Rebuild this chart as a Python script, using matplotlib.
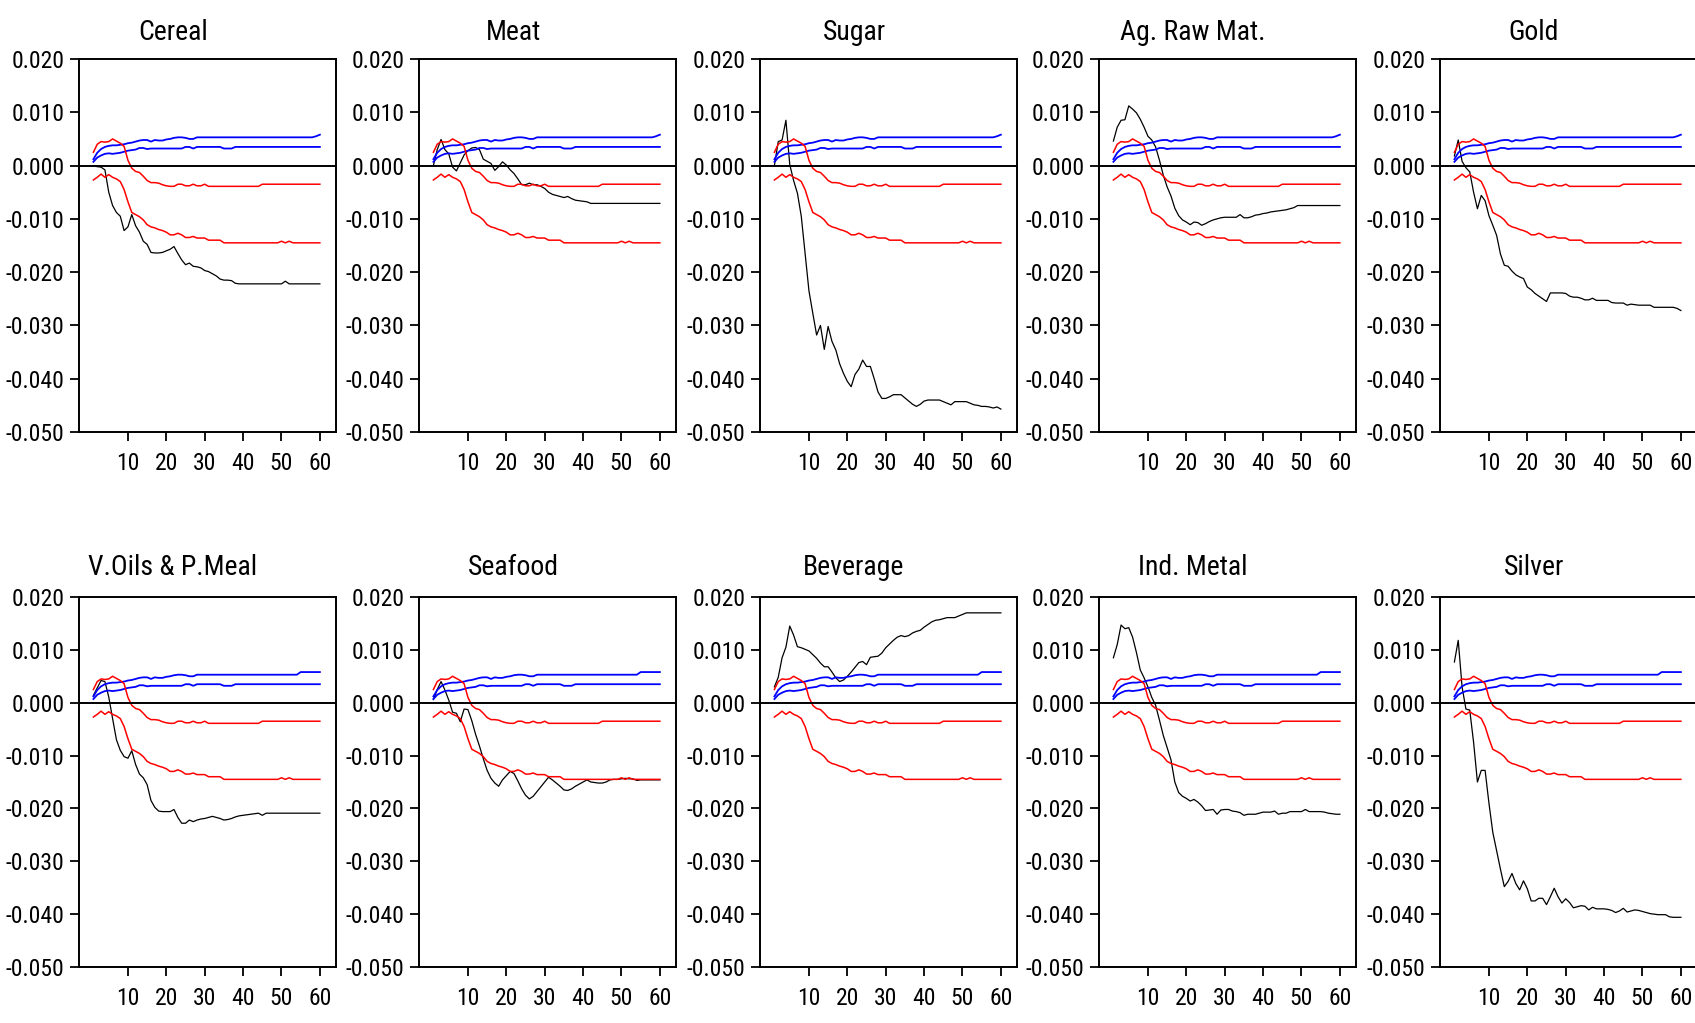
import numpy as np
import matplotlib
matplotlib.use("Agg")
import matplotlib.pyplot as plt
from matplotlib import font_manager

# --- font: want something narrow like the original; fall back to Liberation Sans ---
_fonts = font_manager.fontManager.ttflist
_names = {f.name for f in _fonts}
FONT, STRETCH, TICK_FS, TITLE_FS = "Liberation Sans", "normal", 14, 17
for cand in ["Liberation Sans Narrow", "Arial Narrow", "Roboto Condensed", "Open Sans Condensed"]:
    if cand in _names:
        FONT, TICK_FS, TITLE_FS = cand, 17, 20
        break
else:
    for fam in ["Roboto", "Open Sans", "Noto Sans"]:
        if any(f.name == fam and f.stretch in ("condensed", "semi-condensed", 500 - 125) for f in _fonts):
            FONT, STRETCH, TICK_FS, TITLE_FS = fam, "condensed", 16, 19
            break
plt.rcParams["font.family"] = [FONT, "DejaVu Sans"]
plt.rcParams["font.stretch"] = STRETCH

# --- data (horizons 1..60) ---
horizon = np.arange(1, 61)

titles = ["Cereal", "Meat", "Sugar", "Ag. Raw Mat.", "Gold",
          "V.Oils & P.Meal", "Seafood", "Beverage", "Ind. Metal", "Silver"]

y_ticks = [0.020, 0.010, 0.000, -0.010, -0.020, -0.030, -0.040, -0.050]
x_ticks = [10, 20, 30, 40, 50, 60]

# critical bands (same in every panel)
blue_hi_top = [0.0012, 0.0024, 0.0031, 0.0035, 0.0037, 0.0038, 0.0038, 0.0039, 0.0040, 0.0042,
               0.0043, 0.0045, 0.0047, 0.0048, 0.0048, 0.0045, 0.0048, 0.0047, 0.0047, 0.0049,
               0.0050, 0.0052, 0.0053, 0.0053, 0.0052, 0.0050, 0.0050, 0.0053, 0.0053, 0.0053,
               0.0053, 0.0053, 0.0053, 0.0053, 0.0053, 0.0053, 0.0053, 0.0053, 0.0053, 0.0053,
               0.0053, 0.0053, 0.0053, 0.0053, 0.0053, 0.0053, 0.0053, 0.0053, 0.0053, 0.0053,
               0.0053, 0.0053, 0.0053, 0.0053, 0.0053, 0.0053, 0.0053, 0.0053, 0.0055, 0.0058]
blue_hi_bot = [0.0012, 0.0024, 0.0031, 0.0035, 0.0037, 0.0038, 0.0038, 0.0039, 0.0040, 0.0042,
               0.0043, 0.0045, 0.0047, 0.0048, 0.0048, 0.0045, 0.0048, 0.0047, 0.0047, 0.0049,
               0.0050, 0.0052, 0.0053, 0.0053, 0.0052, 0.0050, 0.0050, 0.0053, 0.0053, 0.0053,
               0.0053, 0.0053, 0.0053, 0.0053, 0.0053, 0.0053, 0.0053, 0.0053, 0.0053, 0.0053,
               0.0053, 0.0053, 0.0053, 0.0053, 0.0053, 0.0053, 0.0053, 0.0053, 0.0053, 0.0053,
               0.0053, 0.0053, 0.0053, 0.0053, 0.0058, 0.0058, 0.0058, 0.0058, 0.0058, 0.0058]
blue_lo = [0.0007, 0.0015, 0.0019, 0.0022, 0.0023, 0.0022, 0.0023, 0.0024, 0.0026, 0.0028,
           0.0029, 0.0030, 0.0033, 0.0033, 0.0031, 0.0032, 0.0032, 0.0032, 0.0032, 0.0032,
           0.0032, 0.0032, 0.0032, 0.0032, 0.0035, 0.0035, 0.0032, 0.0035, 0.0035, 0.0035,
           0.0035, 0.0035, 0.0035, 0.0035, 0.0032, 0.0032, 0.0032, 0.0035, 0.0035, 0.0035,
           0.0035, 0.0035, 0.0035, 0.0035, 0.0035, 0.0035, 0.0035, 0.0035, 0.0035, 0.0035,
           0.0035, 0.0035, 0.0035, 0.0035, 0.0035, 0.0035, 0.0035, 0.0035, 0.0035, 0.0035]
red_hi = [0.0025, 0.0040, 0.0045, 0.0044, 0.0045, 0.0050, 0.0046, 0.0042, 0.0036, 0.0010,
          -0.0005, -0.0011, -0.0013, -0.0020, -0.0028, -0.0032, -0.0032, -0.0033, -0.0036, -0.0038,
          -0.0039, -0.0039, -0.0035, -0.0035, -0.0038, -0.0038, -0.0035, -0.0038, -0.0038, -0.0035,
          -0.0039, -0.0039, -0.0039, -0.0039, -0.0039, -0.0039, -0.0039, -0.0039, -0.0039, -0.0039,
          -0.0039, -0.0039, -0.0039, -0.0039, -0.0035, -0.0035, -0.0035, -0.0035, -0.0035, -0.0035,
          -0.0035, -0.0035, -0.0035, -0.0035, -0.0035, -0.0035, -0.0035, -0.0035, -0.0035, -0.0035]
red_lo = [-0.0027, -0.0022, -0.0016, -0.0022, -0.0017, -0.0022, -0.0025, -0.0030, -0.0045, -0.0068,
          -0.0088, -0.0092, -0.0096, -0.0102, -0.0111, -0.0115, -0.0117, -0.0120, -0.0122, -0.0125,
          -0.0130, -0.0130, -0.0127, -0.0130, -0.0135, -0.0135, -0.0133, -0.0136, -0.0136, -0.0136,
          -0.0140, -0.0140, -0.0140, -0.0140, -0.0145, -0.0145, -0.0145, -0.0145, -0.0145, -0.0145,
          -0.0145, -0.0145, -0.0145, -0.0145, -0.0145, -0.0145, -0.0145, -0.0145, -0.0145, -0.0142,
          -0.0145, -0.0142, -0.0145, -0.0145, -0.0145, -0.0145, -0.0145, -0.0145, -0.0145, -0.0145]

# responses (black lines)
cereal = [-0.0001, -0.0002, -0.0003, -0.0008, -0.0050, -0.0075, -0.0088, -0.0095, -0.0122, -0.0115,
          -0.0092, -0.0113, -0.0125, -0.0142, -0.0148, -0.0163, -0.0164, -0.0164, -0.0163, -0.0160,
          -0.0157, -0.0152, -0.0165, -0.0177, -0.0186, -0.0183, -0.0189, -0.0190, -0.0192, -0.0197,
          -0.0199, -0.0203, -0.0207, -0.0213, -0.0215, -0.0215, -0.0216, -0.0221, -0.0222, -0.0222,
          -0.0222, -0.0222, -0.0222, -0.0222, -0.0222, -0.0222, -0.0222, -0.0222, -0.0222, -0.0222,
          -0.0217, -0.0222, -0.0222, -0.0222, -0.0222, -0.0222, -0.0222, -0.0222, -0.0222, -0.0222]
meat = [0.0000, 0.0030, 0.0049, 0.0030, 0.0022, -0.0003, -0.0010, 0.0005, 0.0020, 0.0028,
        0.0033, 0.0034, 0.0030, 0.0012, 0.0008, 0.0004, -0.0009, -0.0002, 0.0007, 0.0001,
        -0.0008, -0.0015, -0.0025, -0.0036, -0.0036, -0.0033, -0.0036, -0.0036, -0.0039, -0.0043,
        -0.0050, -0.0054, -0.0056, -0.0058, -0.0060, -0.0058, -0.0062, -0.0065, -0.0066, -0.0067,
        -0.0068, -0.0071, -0.0071, -0.0071, -0.0071, -0.0071, -0.0071, -0.0071, -0.0071, -0.0071,
        -0.0071, -0.0071, -0.0071, -0.0071, -0.0071, -0.0071, -0.0071, -0.0071, -0.0071, -0.0071]
sugar = [0.0000, 0.0045, 0.0048, 0.0085, 0.0002, -0.0028, -0.0052, -0.0095, -0.0165, -0.0235,
         -0.0277, -0.0318, -0.0300, -0.0345, -0.0302, -0.0330, -0.0346, -0.0372, -0.0390, -0.0405,
         -0.0415, -0.0392, -0.0382, -0.0365, -0.0377, -0.0377, -0.0400, -0.0425, -0.0437, -0.0437,
         -0.0434, -0.0430, -0.0430, -0.0430, -0.0436, -0.0442, -0.0448, -0.0452, -0.0448, -0.0442,
         -0.0440, -0.0440, -0.0440, -0.0440, -0.0443, -0.0446, -0.0449, -0.0443, -0.0443, -0.0443,
         -0.0443, -0.0446, -0.0449, -0.0450, -0.0452, -0.0452, -0.0453, -0.0455, -0.0453, -0.0457]
ag_raw = [0.0046, 0.0072, 0.0085, 0.0086, 0.0112, 0.0106, 0.0099, 0.0087, 0.0072, 0.0055,
          0.0048, 0.0035, 0.0010, -0.0018, -0.0040, -0.0057, -0.0080, -0.0094, -0.0102, -0.0106,
          -0.0111, -0.0106, -0.0107, -0.0112, -0.0109, -0.0105, -0.0102, -0.0100, -0.0098, -0.0097,
          -0.0097, -0.0097, -0.0097, -0.0092, -0.0098, -0.0098, -0.0096, -0.0093, -0.0092, -0.0090,
          -0.0089, -0.0087, -0.0086, -0.0085, -0.0084, -0.0083, -0.0081, -0.0079, -0.0075, -0.0075,
          -0.0075, -0.0075, -0.0075, -0.0075, -0.0075, -0.0075, -0.0075, -0.0075, -0.0075, -0.0075]
gold = [0.0018, 0.0048, 0.0008, -0.0004, -0.0012, -0.0050, -0.0081, -0.0056, -0.0066, -0.0094,
        -0.0112, -0.0131, -0.0166, -0.0187, -0.0189, -0.0198, -0.0205, -0.0209, -0.0212, -0.0228,
        -0.0233, -0.0240, -0.0245, -0.0250, -0.0255, -0.0239, -0.0239, -0.0239, -0.0239, -0.0240,
        -0.0245, -0.0247, -0.0247, -0.0249, -0.0252, -0.0252, -0.0249, -0.0253, -0.0253, -0.0253,
        -0.0253, -0.0257, -0.0258, -0.0258, -0.0258, -0.0262, -0.0260, -0.0261, -0.0262, -0.0262,
        -0.0262, -0.0262, -0.0266, -0.0266, -0.0266, -0.0266, -0.0266, -0.0266, -0.0268, -0.0272]
veg_oils = [0.0014, 0.0028, 0.0042, 0.0040, 0.0011, -0.0030, -0.0070, -0.0090, -0.0102, -0.0105,
            -0.0091, -0.0117, -0.0135, -0.0142, -0.0155, -0.0185, -0.0198, -0.0205, -0.0206, -0.0206,
            -0.0206, -0.0202, -0.0217, -0.0228, -0.0228, -0.0222, -0.0225, -0.0222, -0.0220, -0.0219,
            -0.0217, -0.0215, -0.0217, -0.0219, -0.0222, -0.0221, -0.0219, -0.0216, -0.0214, -0.0213,
            -0.0212, -0.0211, -0.0210, -0.0209, -0.0213, -0.0209, -0.0209, -0.0209, -0.0209, -0.0209,
            -0.0209, -0.0209, -0.0209, -0.0209, -0.0209, -0.0209, -0.0209, -0.0209, -0.0209, -0.0209]
seafood = [0.0006, 0.0025, 0.0040, 0.0024, 0.0005, -0.0018, -0.0020, -0.0036, -0.0012, -0.0013,
           -0.0034, -0.0060, -0.0082, -0.0106, -0.0128, -0.0143, -0.0152, -0.0158, -0.0146, -0.0138,
           -0.0130, -0.0134, -0.0148, -0.0163, -0.0175, -0.0182, -0.0177, -0.0168, -0.0159, -0.0150,
           -0.0141, -0.0146, -0.0152, -0.0158, -0.0165, -0.0166, -0.0163, -0.0158, -0.0154, -0.0150,
           -0.0146, -0.0150, -0.0151, -0.0152, -0.0152, -0.0150, -0.0146, -0.0145, -0.0145, -0.0144,
           -0.0143, -0.0144, -0.0144, -0.0147, -0.0146, -0.0146, -0.0146, -0.0146, -0.0146, -0.0146]
beverage = [0.0030, 0.0048, 0.0085, 0.0105, 0.0145, 0.0128, 0.0106, 0.0104, 0.0101, 0.0098,
            0.0091, 0.0084, 0.0075, 0.0068, 0.0068, 0.0058, 0.0047, 0.0040, 0.0043, 0.0050,
            0.0058, 0.0067, 0.0076, 0.0078, 0.0072, 0.0086, 0.0087, 0.0088, 0.0094, 0.0104,
            0.0111, 0.0118, 0.0124, 0.0127, 0.0125, 0.0127, 0.0132, 0.0135, 0.0137, 0.0143,
            0.0148, 0.0153, 0.0156, 0.0157, 0.0159, 0.0161, 0.0161, 0.0161, 0.0164, 0.0167,
            0.0170, 0.0170, 0.0170, 0.0170, 0.0170, 0.0170, 0.0170, 0.0170, 0.0170, 0.0170]
ind_metal = [0.0085, 0.0110, 0.0147, 0.0140, 0.0142, 0.0124, 0.0095, 0.0062, 0.0047, 0.0030,
             0.0010, -0.0005, -0.0033, -0.0062, -0.0085, -0.0108, -0.0150, -0.0170, -0.0177, -0.0181,
             -0.0186, -0.0183, -0.0188, -0.0195, -0.0204, -0.0203, -0.0202, -0.0211, -0.0203, -0.0202,
             -0.0202, -0.0205, -0.0206, -0.0208, -0.0213, -0.0211, -0.0211, -0.0211, -0.0209, -0.0207,
             -0.0207, -0.0207, -0.0205, -0.0211, -0.0209, -0.0209, -0.0206, -0.0206, -0.0206, -0.0206,
             -0.0202, -0.0206, -0.0206, -0.0206, -0.0206, -0.0207, -0.0209, -0.0210, -0.0211, -0.0211]
silver = [0.0077, 0.0118, 0.0030, -0.0012, -0.0014, -0.0075, -0.0150, -0.0128, -0.0128, -0.0190,
          -0.0245, -0.0280, -0.0315, -0.0348, -0.0338, -0.0323, -0.0342, -0.0354, -0.0337, -0.0352,
          -0.0375, -0.0375, -0.0370, -0.0370, -0.0382, -0.0367, -0.0351, -0.0367, -0.0379, -0.0371,
          -0.0378, -0.0388, -0.0386, -0.0384, -0.0385, -0.0392, -0.0387, -0.0390, -0.0390, -0.0390,
          -0.0391, -0.0393, -0.0397, -0.0394, -0.0389, -0.0396, -0.0394, -0.0392, -0.0393, -0.0395,
          -0.0397, -0.0399, -0.0400, -0.0401, -0.0401, -0.0401, -0.0405, -0.0406, -0.0406, -0.0406]

responses = [cereal, meat, sugar, ag_raw, gold, veg_oils, seafood, beverage, ind_metal, silver]

# --- figure ---
W, H = 1695, 1023
fig = plt.figure(figsize=(W / 100, H / 100), dpi=100)

col_left = [79, 419, 760, 1099, 1440]   # px
ax_w = 257
row_top = [59, 597]
row_bot = [432, 967]

for i, (name, resp) in enumerate(zip(titles, responses)):
    r, c = divmod(i, 5)
    l = col_left[c] / W
    b = 1 - row_bot[r] / H
    h = (row_bot[r] - row_top[r]) / H
    ax = fig.add_axes([l, b, ax_w / W, h])

    ax.plot(horizon, resp, color="black", lw=0.9, zorder=2)
    ax.plot(horizon, blue_hi_top if r == 0 else blue_hi_bot, color="#0000ff", lw=1.3, zorder=3)
    ax.plot(horizon, blue_lo, color="#0000ff", lw=1.3, zorder=3)
    ax.plot(horizon, red_hi, color="#ff0000", lw=1.1, zorder=3)
    ax.plot(horizon, red_lo, color="#ff0000", lw=1.1, zorder=3)
    ax.axhline(0, color="black", lw=1.4, zorder=4)

    ax.set_xlim(-2.75, 64.2)
    ax.set_ylim(-0.05, 0.02)
    ax.set_xticks(x_ticks)
    ax.set_yticks(y_ticks)
    ax.set_yticklabels([f"{v:.3f}" for v in y_ticks])
    ax.tick_params(direction="out", length=6.5, width=1.3, labelsize=TICK_FS, colors="black")
    ax.tick_params(axis="x", pad=8)
    ax.tick_params(axis="y", pad=4)
    for sp in ax.spines.values():
        sp.set_linewidth(1.4)

    ax.set_title(name, x=0.366, fontsize=TITLE_FS, pad=14 if r == 0 else 16)

fig.savefig("out.png", dpi=100)
